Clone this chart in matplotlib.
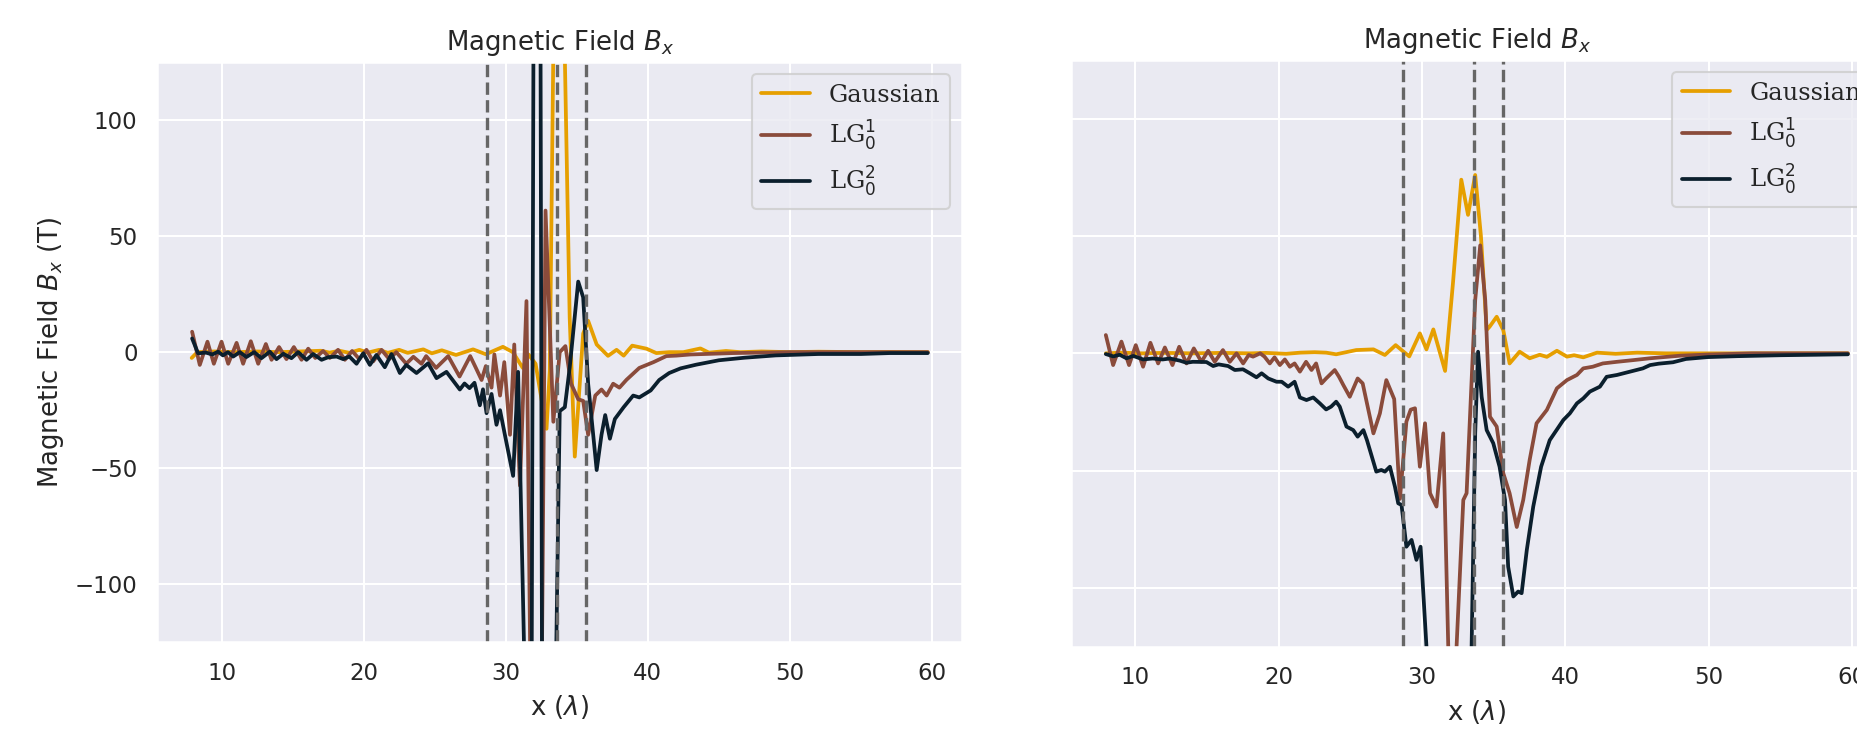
import matplotlib
matplotlib.use('Agg')
import matplotlib.pyplot as plt
import seaborn as sns

# values (x in lambda, B_x in T)
labels = ['Gaussian', r'LG$_0^1$', r'LG$_0^2$']
colors = ['#E69F00', '#8A4B3B', '#0B1F2D']
boundaries = [28.67, 33.6, 35.63]

# left panel
gauss_x_l = [7.9, 8.3, 9.5, 11, 12.5, 14, 15.5, 17, 17.6, 18.3, 19.0, 19.7, 20.3, 21.1, 21.7, 22.5,
             23.1, 24.2, 24.8, 25.5, 26.5, 27.7, 28.6, 29.8, 30.5, 31.2, 31.6, 32.1, 32.87, 33.1,
             33.35, 33.75, 34.15, 34.5, 34.86, 35.45, 35.8, 36.4, 37.2, 37.8, 38.3, 38.9, 39.9,
             40.6, 41.5, 42.5, 43.7, 44.3, 45.5, 46.5, 48, 50, 52, 55, 57, 59.7]
gauss_y_l = [-2.5, 0, 0.3, 0, 0.3, 0, 0.3, 0.6, -0.2, 0.6, -0.3, 1.0, -0.2, 1.0, -0.3, 1.0,
             -0.3, 1.2, -0.5, 0.8, -1.2, 1.2, -0.9, 2.3, 0, -6.8, -1, -5, -33, -8,
             130, 220, 130, 15, -45, 8, 13.5, 3.3, -1.6, 1.0, -1.5, 2.8, 1.5,
             -0.4, 0, 0, 1.6, -0.2, 0.5, 0, 0.3, 0, 0.2, 0, 0.1, 0]

lg1_x_l = [7.93, 8.47, 9.01, 9.46, 10.0, 10.47, 11.06, 11.52, 12.06, 12.58, 13.12, 13.52, 14.05,
           14.57, 15.09, 15.63, 16.1, 16.6, 17.15, 17.62, 18.2, 18.68, 19.19, 19.7, 20.2, 20.67,
           21.26, 21.8, 22.3, 23.0, 23.5, 24.07, 24.4, 25.1, 25.95, 26.75, 27.5, 27.9, 28.3, 28.6,
           29.0, 29.2, 29.6, 29.9, 30.3, 30.6, 31.0, 31.46, 31.72, 32.15, 32.55, 32.8, 33.35,
           33.8, 34.2, 34.6, 35.1, 35.45, 35.8, 36.3, 36.74, 37.1, 37.56, 38.0, 38.5, 39.4, 40.4,
           41.3, 42, 43, 44, 46, 48, 50, 55, 59.7]
lg1_y_l = [8.8, -5.5, 4.5, -5, 4.5, -5, 4, -5, 4.7, -5, 3.5, -3.3, 2.2,
           -3, 2.2, -3.3, 1.5, -2.5, 0.5, -2.5, 1, -3.3, 0.5, -3, 1, -4,
           1, -3, 0, -5, -2, -5, -1.7, -6.8, -1.7, -10.5, -1.7, -6.8, -12, -6,
           -15.3, -1, -18.7, -4.3, -35.6, 3.3, -57.5, 22, -130, -230, -130, 61, -30,
           0, 2.6, -13.6, -20.3, -21, -35.6, -18.7, -16.1, -18.7, -13.6, -15.3, -11.9, -6.8, -4.3,
           -1.7, -1.5, -1, -0.8, -0.4, -0.2, 0, 0, 0]

lg2_x_l = [7.93, 8.35, 8.9, 9.35, 9.76, 10.1, 10.45, 10.82, 11.29, 11.75, 12.3, 12.81, 13.4, 13.87,
           14.35, 14.92, 15.4, 15.98, 16.45, 17.04, 17.5, 18.1, 18.56, 19.0, 19.5, 19.97, 20.44,
           20.9, 21.49, 21.96, 22.55, 23.0, 23.72, 24.54, 25.13, 25.83, 26.77, 27.1, 27.45, 27.8,
           28.18, 28.4, 28.65, 29.0, 29.35, 29.6, 29.94, 30.52, 30.87, 31.3, 31.55, 31.83, 31.95,
           32.2, 32.45, 32.55, 33.0, 33.55, 33.8, 34.16, 34.5, 35.1, 35.45, 35.8, 36.4, 36.74,
           37.0, 37.33, 37.68, 38.3, 38.97, 39.4, 40.2, 40.8, 41.5, 42.3, 43.4, 45, 46.8, 49,
           52, 55, 57, 59.7]
lg2_y_l = [5.9, -0.5, -0.2, -1.0, 0.2, -1.4, 0, -1.9, 0, -2.1, 0, -2.6, 0.2, -3,
           -0.7, -2.6, 0, -3.3, -0.8, -3.3, -2.2, -1.9, -3, -1.9, -5, -0.5, -5.5,
           -1.2, -6.5, -0.8, -9, -5.5, -9, -4.8, -11.2, -8.5, -16.1, -13.5, -15.5, -13.2,
           -22.9, -16, -26.3, -18, -31.3, -25, -35.6, -53.3, -8.5, -130, -230, -130, 130,
           260, 130, -130, -280, -130, -25.4, -23.7, -6.8, 30.4, 23.6, -13.6, -50.8, -35.6,
           -27.1, -37.3, -28.8, -23.7, -18.7, -19.5, -16.5, -12, -9, -7, -5.4, -3.5, -2.4, -1.4,
           -0.8, -0.8, -0.4, -0.4]

# right panel
gauss_x_r = [7.93, 9, 10.5, 12, 14, 16, 18, 19.1, 20.5, 21.5, 22.5, 23.3, 24.0, 24.7, 25.4, 26.6,
             27.4, 28.15, 29.1, 29.84, 30.3, 30.78, 31.6, 32.15, 32.73, 33.2, 33.7, 34.1, 34.5,
             34.7, 35.2, 35.66, 36.1, 36.8, 37.5, 38.2, 38.7, 39.4, 40.1, 40.6, 41.24, 42.2,
             43.5, 45, 47, 50, 55, 59.7]
gauss_y_r = [0, 0.3, 0, 0.2, 0, 0.2, 0, 0.2, -0.2, 0.3, 0.5, 0.3, -0.4, 0.5, 1.4, 1.7,
             -0.7, 3.5, -1.3, 8.5, 1.7, 10.2, -7.5, 30, 74, 59, 76, 50, 10,
             11.3, 15.6, 9.9, -4.3, 0.7, -2.1, -0.6, -1.5, 1.1, -1.4, -0.8, -1.7, 0.3,
             -0.2, 0.3, 0, 0, 0, 0]

lg1_x_r = [7.93, 8.44, 9.02, 9.55, 10.02, 10.53, 11.04, 11.58, 12.05, 12.58, 13.05, 13.56, 14.07,
           14.6, 15.07, 15.53, 16.1, 16.58, 17.05, 17.51, 17.9, 18.2, 18.7, 19.0, 19.37, 19.7,
           20.07, 20.42, 20.77, 21.1, 21.47, 21.9, 22.28, 22.6, 22.98, 23.3, 23.9, 24.2, 24.5,
           24.95, 25.5, 25.85, 26.6, 27.05, 27.5, 28.05, 28.45, 28.9, 29.2, 29.5, 29.84, 30.2,
           30.55, 31.0, 31.47, 31.82, 32.1, 32.4, 32.87, 33.1, 33.7, 34.05, 34.4, 34.73, 35.2,
           35.66, 36.1, 36.6, 37.05, 37.5, 37.98, 38.7, 39.4, 40.1, 40.8, 41.24, 41.9, 42.6,
           43.6, 44.7, 45.9, 48, 50, 53, 56, 59.7]
lg1_y_r = [7.8, -5, 5, -5, 3.5, -5.7, 4.5, -4.3, 2.5, -5, 2.8, -4.3, 2.1,
           -3.6, 1.1, -3.6, 1.4, -3.6, 0, -4.3, -0.7, -1.4, 0, -1.4, -4.3, -1.7,
           -5, -2.6, -5.7, -4.3, -7.8, -3.6, -7.1, -4.3, -12.8, -10.7, -7.1, -10, -13.5,
           -18.5, -10.7, -12.8, -34.1, -25.6, -11.4, -19.5, -62, -29.1, -24, -23.4, -48.3, -29.8,
           -59.6, -65.3, -34.1, -125, -175, -125, -62.5, -59.6, 22.7, 46, 22.7, -27, -31.2,
           -51.1, -59.6, -74, -62.5, -45.4, -29.8, -24.1, -14.9, -11.4, -9.2, -6.4, -5.7, -4.3,
           -3.6, -2.9, -2.1, -1, -0.5, 0, 0, 0]

lg2_x_r = [7.93, 8.45, 8.9, 9.37, 9.85, 10.53, 11.2, 11.9, 12.4, 13.09, 13.55, 14.0, 14.95, 15.42,
           15.8, 16.46, 16.93, 17.5, 17.98, 18.44, 18.8, 19.26, 19.84, 20.2, 20.65, 21.1, 21.47,
           21.93, 22.4, 22.86, 23.3, 23.65, 24.0, 24.25, 24.72, 25.19, 25.5, 25.9, 26.15, 26.8,
           27.15, 27.4, 27.75, 28.1, 28.33, 28.56, 28.9, 29.26, 29.6, 29.89, 30.3, 31.8, 33.45,
           33.7, 33.9, 34.15, 34.5, 34.96, 35.4, 35.78, 36.0, 36.36, 36.7, 36.94, 37.3, 37.75,
           38.3, 38.9, 39.85, 40.3, 40.8, 41.24, 41.7, 42.4, 42.87, 43.6, 44.5, 45.4, 45.9,
           46.5, 47.5, 48.4, 49.9, 52, 55, 57.5, 59.7]
lg2_y_r = [-0.3, -1.3, -0.6, -2.1, -1.1, -2.6, -2.2, -2.6, -2.2, -3.1, -4, -3.6, -3.7, -5.4,
           -4.7, -5.4, -7.1, -6.8, -8.5, -10.2, -8.5, -10.7, -12.1, -12.1, -14.2, -12.1, -18.8,
           -19.9, -18.8, -21.3, -23.9, -22.7, -20.6, -22.7, -31.2, -32.7, -35.5, -32.7, -37, -50.4,
           -49.7, -50.4, -48.3, -56.8, -63.9, -64.6, -82.4, -79.5, -88, -82.4, -125, -290, -125,
           -34.1, 0.7, -18.5, -32.7, -38.3, -48.3, -62.5, -90.9, -103.6, -101.5, -102.2, -83.8, -65.3,
           -48.3, -37, -28.4, -25.6, -21.3, -19.2, -16.3, -14.2, -10, -9.2, -7.8, -6.4, -5,
           -4.4, -3.8, -2.4, -1.6, -1.2, -0.8, -0.6, -0.4]


def draw_panel(ax, series, show_ylabel):
    for (xs, ys), lab, col in zip(series, labels, colors):
        ax.plot(xs, ys, color=col, lw=1.8, label=lab, solid_joinstyle='round')
    for b in boundaries:
        ax.axvline(b, color='#666666', ls='--', lw=1.6)
    ax.set_xlim(5.48, 62.13)
    ax.set_ylim(-125, 125)
    ax.set_xticks([10, 20, 30, 40, 50, 60])
    ax.set_yticks([-100, -50, 0, 50, 100])
    ax.set_title(r'Magnetic Field $B_x$', fontsize=12.5)
    ax.set_xlabel(r'x ($\lambda$)', fontsize=12.5)
    if show_ylabel:
        ax.set_ylabel(r'Magnetic Field $B_x$ (T)', fontsize=12.5)
    else:
        ax.tick_params(labelleft=False)
    ax.legend(loc='upper right', prop={'family': 'serif', 'size': 11.6})


def main():
    sns.set_theme(style='darkgrid', context='notebook')
    plt.rcParams['font.family'] = ['DejaVu Sans']
    fig = plt.figure(figsize=(1857 / 150, 737 / 150), dpi=150)
    ax1 = fig.add_axes([157.3 / 1857, 1 - 642.3 / 737, 805 / 1857, 580.3 / 737])
    ax2 = fig.add_axes([1070.7 / 1857, 1 - 646.7 / 737, 812 / 1857, 586.7 / 737])

    draw_panel(ax1, [(gauss_x_l, gauss_y_l), (lg1_x_l, lg1_y_l), (lg2_x_l, lg2_y_l)], True)
    draw_panel(ax2, [(gauss_x_r, gauss_y_r), (lg1_x_r, lg1_y_r), (lg2_x_r, lg2_y_r)], False)

    fig.savefig('out.png', dpi=150)


if __name__ == '__main__':
    main()
